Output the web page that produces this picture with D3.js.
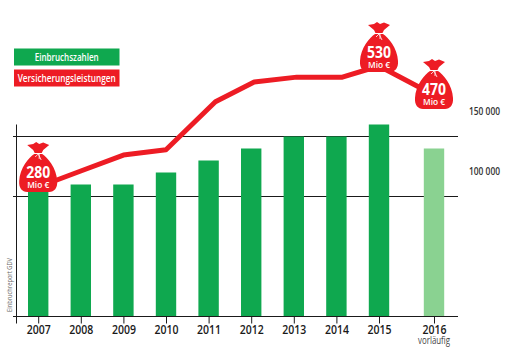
<!DOCTYPE html>
<html>
<head>
<meta charset="utf-8">
<script src="https://cdn.jsdelivr.net/npm/d3@7"></script>
<style>
  html, body { margin: 0; padding: 0; background: #fff; }
  svg { display: block; }
  text { font-family: "Open Sans", sans-serif; }
</style>
</head>
<body>
<svg id="chart" width="510" height="361"></svg>
<script>
// values
var years = [2007, 2008, 2009, 2010, 2011, 2012, 2013, 2014, 2015, 2016];
var burglaries = [110000, 110000, 110000, 120000, 130000, 140000, 150000, 150000, 160000, 140000];
// the red line's corners sit a little off the year ticks in the original
var payoutYears = [2007, 2008, 2009, 2010, 2011.16, 2012.07, 2013.07, 2014.14, 2015, 2016];
var payouts = [280, 313, 346, 357, 456, 497, 507, 507, 530, 470];
var bagYears = [2007, 2015, 2016];
var bagValues = [280, 530, 470];
var bagDrop = [5, 6, 14];
var legendLabels = ["Einbruchszahlen", "Versicherungsleistungen"];
var legendWidths = [64, 98];
var rightTicks = [100000, 150000];

var green = "#0fa84f", lightGreen = "#8ad291", red = "#ed1c24", ink = "#1a1a1a";

var svg = d3.select("#chart");

// 2016 stands apart from the other years
var x = d3.scaleLinear().domain([2007, 2015, 2016]).range([38.2, 379, 434]);
var y = d3.scaleLinear().domain([0, 160000]).range([316.5, 124.5]);
var yRed = d3.scaleLinear().domain([280, 530]).range([187, 66]);

// gridlines and right hand labels
var right = svg.append("g")
  .attr("transform", "translate(458,0)")
  .call(d3.axisRight(y).tickValues(rightTicks).tickSize(0).tickPadding(11)
    .tickFormat(function (d) { return d3.format(",")(d).replace(",", " "); }));
right.select(".domain").remove();
right.selectAll("text")
  .attr("dy", "-22")
  .attr("fill", "#333")
  .style("font-size", "10px")
  .style("font-family", "'Open Sans', sans-serif")
  .style("font-weight", "600")
  .attr("textLength", 31)
  .attr("lengthAdjust", "spacingAndGlyphs");

svg.selectAll(".grid")
  .data(rightTicks)
  .enter()
  .append("line")
  .attr("class", "grid")
  .attr("x1", 13)
  .attr("x2", 458)
  .attr("y1", function (d) { return y(d); })
  .attr("y2", function (d) { return y(d); })
  .attr("stroke", ink)
  .attr("stroke-width", 1);

// bars
svg.selectAll(".bar")
  .data(years)
  .enter()
  .append("rect")
  .attr("class", "bar")
  .attr("x", function (d) { return x(d) - 10.2; })
  .attr("width", 20.4)
  .attr("y", function (d, i) { return y(burglaries[i]); })
  .attr("height", function (d, i) { return y(0) - y(burglaries[i]); })
  .attr("fill", function (d) { return d === 2016 ? lightGreen : green; });

// axes
var bottom = svg.append("g")
  .attr("transform", "translate(0," + y(0) + ")")
  .call(d3.axisBottom(x).tickValues(years).tickFormat(d3.format("d")).tickSize(7).tickSizeOuter(0).tickPadding(2));
bottom.select(".domain").remove();
bottom.selectAll("line").attr("stroke", ink);
bottom.selectAll("text")
  .attr("fill", ink)
  .style("font-family", "'Open Sans', sans-serif")
  .style("font-size", "12px")
  .style("font-weight", "600")
  .attr("textLength", 24)
  .attr("lengthAdjust", "spacingAndGlyphs");

svg.append("line")
  .attr("x1", 13).attr("x2", 458)
  .attr("y1", y(0)).attr("y2", y(0))
  .attr("stroke", ink).attr("stroke-width", 1);
svg.append("line")
  .attr("x1", 16.5).attr("x2", 16.5)
  .attr("y1", y(160000)).attr("y2", y(0) + 7)
  .attr("stroke", ink).attr("stroke-width", 1);

svg.append("text")
  .attr("x", x(2016))
  .attr("y", 344)
  .attr("text-anchor", "middle")
  .attr("fill", "#444")
  .style("font-size", "10px")
  .attr("textLength", 32)
  .attr("lengthAdjust", "spacingAndGlyphs")
  .text("vorläufig");

svg.append("text")
  .attr("transform", "translate(12,312) rotate(-90)")
  .attr("fill", "#666")
  .style("font-size", "8px")
  .attr("textLength", 54)
  .attr("lengthAdjust", "spacingAndGlyphs")
  .text("Einbruchreport GDV");

// red line
var line = d3.line()
  .x(function (d) { return x(d); })
  .y(function (d, i) { return yRed(payouts[i]); });

svg.append("path")
  .datum(payoutYears)
  .attr("d", line)
  .attr("fill", "none")
  .attr("stroke", red)
  .attr("stroke-width", 5)
  .attr("stroke-linejoin", "round");

// money bags
var bags = svg.selectAll(".bag")
  .data(bagYears)
  .enter()
  .append("g")
  .attr("class", "bag")
  .attr("transform", function (d, i) {
    return "translate(" + x(d) + "," + (yRed(bagValues[i]) + bagDrop[i] - 50) + ")";
  });

bags.append("path")
  .attr("fill", red)
  .attr("d", "M-11,3 L-5,2 L-2,0 L1,2 L5,0.5 L11,3 L5,8 L3.5,11 L-3.5,11 L-5,8 Z");
bags.append("path")
  .attr("fill", red)
  .attr("d", "M-4,12 L4,12 C9,15 18.5,26 19,39 C19.5,46 16,50 11,50 L-11,50 C-16,50 -19.5,46 -19,39 C-18.5,26 -9,15 -4,12 Z");
bags.append("path")
  .attr("fill", "none")
  .attr("stroke", "#fff")
  .attr("stroke-width", 0.8)
  .attr("d", "M-4,11.5 L4,11.5 M0,12 L-3,15 M0,12 L3,18 M1,12 L1,17");

bags.append("text")
  .attr("y", 36)
  .attr("text-anchor", "middle")
  .attr("fill", "#fff")
  .style("font-size", "16px")
  .style("font-weight", "700")
  .attr("textLength", 24)
  .attr("lengthAdjust", "spacingAndGlyphs")
  .text(function (d, i) { return bagValues[i]; });

bags.append("text")
  .attr("y", 45.5)
  .attr("text-anchor", "middle")
  .attr("fill", "#fff")
  .style("font-size", "8.5px")
  .style("font-weight", "600")
  .attr("textLength", 22)
  .attr("lengthAdjust", "spacingAndGlyphs")
  .text("Mio €");

// legend
var legend = svg.selectAll(".legend")
  .data(legendLabels)
  .enter()
  .append("g")
  .attr("class", "legend")
  .attr("transform", function (d, i) { return "translate(14," + (48.5 + i * 21) + ")"; });

legend.append("rect")
  .attr("width", 105.5)
  .attr("height", 17)
  .attr("fill", function (d, i) { return i === 0 ? green : red; });

legend.append("text")
  .attr("x", 52.7)
  .attr("y", 12)
  .attr("text-anchor", "middle")
  .attr("fill", "#fff")
  .style("font-size", "10px")
  .style("font-weight", "600")
  .attr("textLength", function (d, i) { return legendWidths[i]; })
  .attr("lengthAdjust", "spacingAndGlyphs")
  .text(function (d) { return d; });
</script>
</body>
</html>
